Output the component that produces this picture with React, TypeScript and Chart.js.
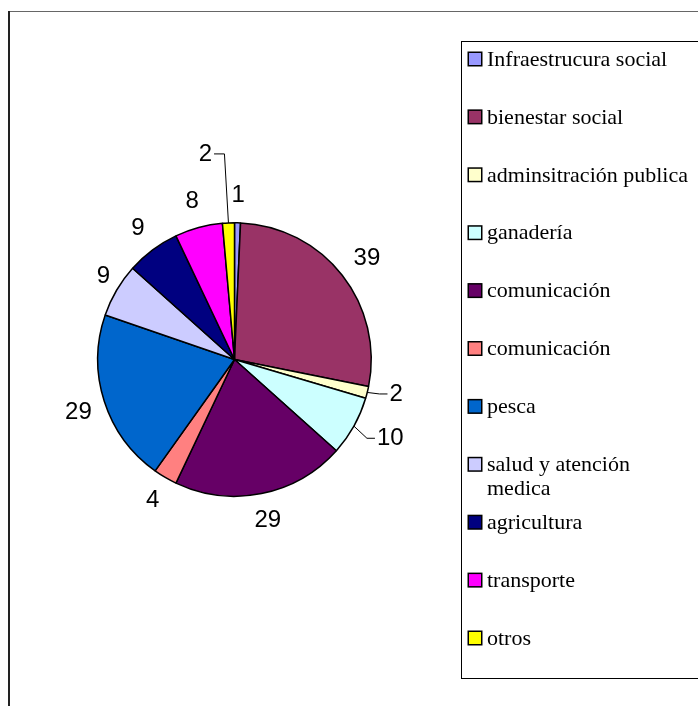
import React, { useEffect, useRef } from "react";
import { Chart, registerables } from "chart.js";

Chart.register(...registerables);

const categories = [
  "Infraestrucura social",
  "bienestar social",
  "adminsitración publica",
  "ganadería",
  "comunicación",
  "comunicación",
  "pesca",
  "salud y atención medica",
  "agricultura",
  "transporte",
  "otros",
];
const values = [1, 39, 2, 10, 29, 4, 29, 9, 9, 8, 2];
const colors = [
  "#9999FF",
  "#993366",
  "#FFFFCC",
  "#CCFFFF",
  "#660066",
  "#FF8080",
  "#0066CC",
  "#CCCCFF",
  "#000080",
  "#FF00FF",
  "#FFFF00",
];

// label placement tweaks (px) and which labels get leader lines
const labelNudge: Record<number, [number, number]> = {
  2: [5, -5],
  3: [9, -1],
  6: [4, 3],
  7: [8, 0],
  10: [-22, -42],
};
const leaderLeft = [2, 3];
const leaderElbowRight = [10];

const labelPlugin = {
  id: "pieLabels",
  afterDatasetsDraw(chart: any) {
    const ctx = chart.ctx;
    const meta = chart.getDatasetMeta(0);
    ctx.save();
    ctx.font = '24px "Liberation Sans", Arial, sans-serif';
    ctx.fillStyle = "#000";
    ctx.strokeStyle = "#000";
    ctx.lineWidth = 1;
    ctx.textAlign = "center";
    ctx.textBaseline = "middle";
    const gap = 18;
    const halfH = 9;
    meta.data.forEach((arc: any, i: number) => {
      const p = arc.getProps(["x", "y", "startAngle", "endAngle", "outerRadius"], true);
      const a = (p.startAngle + p.endAngle) / 2;
      const ux = Math.cos(a);
      const uy = Math.sin(a);
      const txt = String(chart.data.datasets[0].data[i]);
      const w = ctx.measureText(txt).width;
      let lx = p.x + (p.outerRadius + gap) * ux + (w / 2) * ux;
      let ly = p.y + (p.outerRadius + gap) * uy + halfH * uy;
      const n = labelNudge[i];
      if (n) {
        lx += n[0];
        ly += n[1];
      }
      const ex = p.x + p.outerRadius * ux;
      const ey = p.y + p.outerRadius * uy;
      if (leaderLeft.includes(i)) {
        const left = lx - w / 2 - 2;
        ctx.beginPath();
        ctx.moveTo(ex, ey);
        ctx.lineTo(left - 8, ly);
        ctx.lineTo(left, ly);
        ctx.stroke();
      }
      if (leaderElbowRight.includes(i)) {
        const right = lx + w / 2 + 2;
        ctx.beginPath();
        ctx.moveTo(right, ly);
        ctx.lineTo(ex - 4, ly);
        ctx.lineTo(ex, ey);
        ctx.stroke();
      }
      ctx.fillText(txt, lx, ly);
    });
    ctx.restore();
  },
};

const framePlugin = {
  id: "frameAndLegend",
  afterDraw(chart: any) {
    const ctx = chart.ctx;
    ctx.save();
    // outer chart frame
    ctx.strokeStyle = "#666";
    ctx.lineWidth = 1;
    ctx.beginPath();
    ctx.moveTo(8, 11.5);
    ctx.lineTo(chart.width, 11.5);
    ctx.stroke();
    ctx.strokeStyle = "#222";
    ctx.lineWidth = 2;
    ctx.beginPath();
    ctx.moveTo(9, 11);
    ctx.lineTo(9, chart.height);
    ctx.stroke();

    // legend box
    const bx = 461.5;
    const by = 41.5;
    const bh = 637;
    ctx.strokeStyle = "#000";
    ctx.lineWidth = 1;
    ctx.strokeRect(bx, by, chart.width + 20 - bx, bh);

    const labels: string[] = chart.data.labels;
    const bg: string[] = chart.data.datasets[0].backgroundColor;
    ctx.font = '22px "Liberation Serif", "Times New Roman", serif';
    ctx.textBaseline = "middle";
    ctx.textAlign = "left";
    const step = 57.9;
    const maxW = 206;
    labels.forEach((lab, i) => {
      const cy = 59 + i * step;
      ctx.fillStyle = bg[i];
      ctx.fillRect(468, cy - 7, 14, 14);
      ctx.strokeStyle = "#000";
      ctx.lineWidth = 1.5;
      ctx.strokeRect(468.25, cy - 6.75, 13.5, 13.5);
      ctx.fillStyle = "#000";
      // wrap
      const words = lab.split(" ");
      const lines: string[] = [];
      let cur = "";
      words.forEach((wd) => {
        const t = cur ? cur + " " + wd : wd;
        if (ctx.measureText(t).width > maxW && cur) {
          lines.push(cur);
          cur = wd;
        } else {
          cur = t;
        }
      });
      if (cur) lines.push(cur);
      lines.forEach((ln, k) => {
        ctx.fillText(ln, 487, cy + 1 + k * 24);
      });
    });
    ctx.restore();
  },
};

export default function App() {
  const ref = useRef<HTMLCanvasElement | null>(null);
  useEffect(() => {
    if (!ref.current) return;
    const chart = new Chart(ref.current, {
      type: "pie",
      data: {
        labels: categories,
        datasets: [
          {
            data: values,
            backgroundColor: colors,
            borderColor: "#000",
            borderWidth: 1.5,
          },
        ],
      },
      options: {
        animation: false,
        responsive: false,
        devicePixelRatio: 1,
        layout: { padding: { left: 97, right: 326, top: 222, bottom: 209 } },
        plugins: {
          legend: { display: false },
          tooltip: { enabled: false },
        },
      },
      plugins: [labelPlugin, framePlugin],
    });
    return () => chart.destroy();
  }, []);
  return (
    <div style={{ position: "absolute", left: 0, top: 0, width: 698, height: 706, background: "#fff" }}>
      <canvas ref={ref} width={698} height={706} style={{ display: "block" }} />
    </div>
  );
}
